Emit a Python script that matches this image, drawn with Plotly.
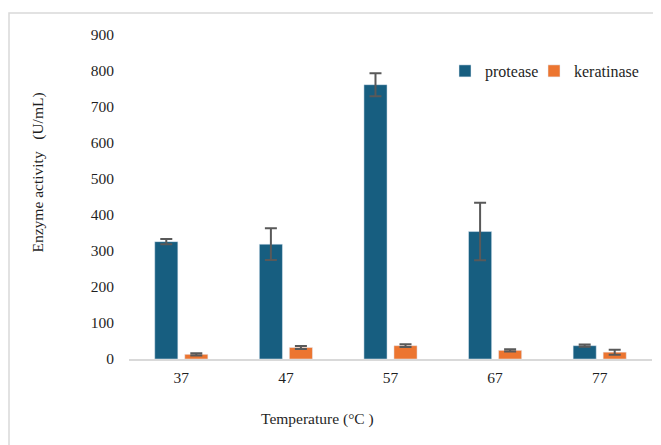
import plotly.graph_objects as go

temps = ["37", "47", "57", "67", "77"]
protease = [326, 319, 762, 354, 37]
protease_err = [7, 44, 32, 80, 3]
keratinase = [13, 32, 37, 24, 19]
keratinase_err = [3, 4, 4, 3, 7]
y_ticks = [0, 100, 200, 300, 400, 500, 600, 700, 800, 900]

FONT = "Liberation Serif"
BLUE = "#175E80"
ORANGE = "#EC7530"
ERR = "#595959"
GRID = "#D9D9D9"
TXT = "#1F1F1F"

# page offset of the plot div (body margin)
OFF = 8
PAGE_W, PAGE_H = 661, 445
W, H = PAGE_W - OFF, PAGE_H - OFF
# plot area in page coordinates
PL, PR, PT, PB = 129, 652, 35, 359
L, R, T, B = PL - OFF, W - (PR - OFF), PT - OFF, H - (PB - OFF)
pw, ph = W - L - R, H - T - B


def px(x):
    return (x - OFF - L) / pw


def py(y):
    return (H - B - (y - OFF)) / ph


def f(size, color=TXT):
    return dict(family=FONT, size=size, color=color)


fig = go.Figure()
fig.add_trace(go.Bar(
    x=temps, y=protease, name="protease", marker_color=BLUE,
    error_y=dict(type="data", array=protease_err, color=ERR, thickness=2, width=6),
    legend="legend",
))
fig.add_trace(go.Bar(
    x=temps, y=keratinase, name="keratinase", marker_color=ORANGE,
    error_y=dict(type="data", array=keratinase_err, color=ERR, thickness=2, width=6),
    legend="legend2",
))

fig.update_layout(
    width=W, height=H,
    margin=dict(l=L, r=R, t=T, b=B, pad=0),
    paper_bgcolor="white", plot_bgcolor="white",
    font=f(15.5),
    barmode="group", bargap=0.426, bargroupgap=0.23,
    showlegend=True,
    legend=dict(x=px(445), y=py(71), xanchor="left", yanchor="middle",
                orientation="h", font=f(16),
                bgcolor="rgba(0,0,0,0)", itemwidth=30),
    legend2=dict(x=px(534), y=py(71), xanchor="left", yanchor="middle",
                 orientation="h", font=f(16),
                 bgcolor="rgba(0,0,0,0)", itemwidth=30),
    xaxis=dict(showline=True, linecolor=GRID, linewidth=2, showgrid=False,
               ticks="", tickfont=f(15.5), ticklabelstandoff=3),
    yaxis=dict(range=[0, 900], tickvals=y_ticks, showgrid=False, showline=False,
               zeroline=False, ticks="", tickfont=f(15.5),
               ticklabelstandoff=14),
    shapes=[dict(type="rect", xref="paper", yref="paper",
                 x0=px(9), x1=px(700), y0=py(480), y1=py(13),
                 line=dict(color=GRID, width=1.5), fillcolor="rgba(0,0,0,0)",
                 layer="below")],
    annotations=[
        dict(text="Temperature (°C )", xref="paper", yref="paper",
             x=px(317), y=py(419), showarrow=False, xanchor="center", yanchor="middle",
             font=f(15.5)),
        dict(text="Enzyme activity\u00a0\u00a0\u00a0(U/mL)", xref="paper", yref="paper",
             x=px(37), y=py(172.5), showarrow=False, textangle=-90,
             xanchor="center", yanchor="middle",
             font=f(15.5)),
    ],
)

fig.write_html("out.html")
